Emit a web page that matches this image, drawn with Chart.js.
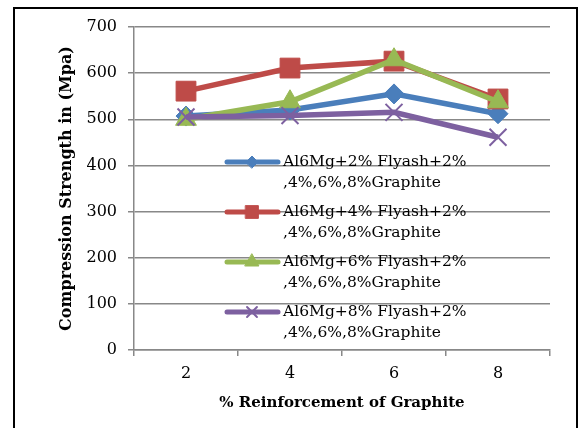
<!DOCTYPE html>
<html>
<head>
<meta charset="utf-8">
<script src="https://cdn.jsdelivr.net/npm/chart.js@4.4.1/dist/chart.umd.min.js"></script>
<style>
html,body{margin:0;padding:0;background:#fff;}
#wrap{position:relative;width:580px;height:428px;}
</style>
</head>
<body>
<div id="wrap"><canvas id="c" width="580" height="428"></canvas></div>
<script>
const categories = ['2', '4', '6', '8'];
const seriesNames = [
  ['Al6Mg+2% Flyash+2%', ',4%,6%,8%Graphite'],
  ['Al6Mg+4% Flyash+2%', ',4%,6%,8%Graphite'],
  ['Al6Mg+6% Flyash+2%', ',4%,6%,8%Graphite'],
  ['Al6Mg+8% Flyash+2%', ',4%,6%,8%Graphite']
];
const flyash2 = [507, 520, 555, 512];
const flyash4 = [561, 611, 626, 544];
const flyash6 = [500, 538, 629, 538];
const flyash8 = [505, 508, 515, 461];
const yTicks = [0, 100, 200, 300, 400, 500, 600, 700];

const colors = ['#4A7EBB', '#BE4B48', '#98B954', '#7D60A0'];
const styles = ['rectRot', 'rect', 'triangle', 'crossRot'];
const radii = [10, 14, 12, 12];
const legendRadii = [6, 9, 8, 7];
const FONT = "'DejaVu Serif', serif";

function ds(i, data, order) {
  return {
    label: seriesNames[i].join(' '),
    data: data,
    borderColor: colors[i],
    backgroundColor: colors[i],
    borderWidth: 5.5,
    pointStyle: styles[i],
    pointRadius: radii[i],
    pointHoverRadius: radii[i],
    pointBorderColor: colors[i],
    pointBackgroundColor: colors[i],
    pointBorderWidth: styles[i] === 'crossRot' ? 2 : 1,
    tension: 0,
    order: order
  };
}

const frame = {
  id: 'frame',
  beforeDraw(chart) {
    const ctx = chart.ctx;
    ctx.save();
    ctx.fillStyle = '#fff';
    ctx.fillRect(0, 0, chart.width, chart.height);
    ctx.strokeStyle = '#000';
    ctx.lineWidth = 2;
    ctx.strokeRect(14, 8, 563, 500);
    ctx.restore();
  }
};

const customLegend = {
  id: 'customLegend',
  afterDraw(chart) {
    const ctx = chart.ctx;
    ctx.save();
    ctx.font = "15.5px " + FONT;
    ctx.textBaseline = 'middle';
    ctx.textAlign = 'left';
    for (let i = 0; i < seriesNames.length; i++) {
      const y = 162 + 50 * i;
      ctx.strokeStyle = colors[i];
      ctx.lineWidth = 5;
      ctx.lineCap = 'round';
      ctx.beginPath();
      ctx.moveTo(227, y);
      ctx.lineTo(278, y);
      ctx.stroke();
      ctx.fillStyle = colors[i];
      ctx.lineWidth = styles[i] === 'crossRot' ? 2 : 1;
      Chart.helpers.drawPoint(ctx, {pointStyle: styles[i], radius: legendRadii[i], borderWidth: ctx.lineWidth, rotation: 0}, 252, y);
      ctx.fillStyle = '#000';
      ctx.fillText(seriesNames[i][0], 283, y);
      ctx.fillText(seriesNames[i][1], 283, y + 21);
    }
    ctx.restore();
  }
};

new Chart(document.getElementById('c'), {
  type: 'line',
  data: {
    labels: categories,
    datasets: [
      ds(0, flyash2, 4),
      ds(1, flyash4, 3),
      ds(2, flyash6, 2),
      ds(3, flyash8, 1)
    ]
  },
  options: {
    responsive: false,
    animation: false,
    events: [],
    layout: {padding: {left: 0, right: 30, top: 27, bottom: 0}},
    plugins: {legend: {display: false}, tooltip: {enabled: false}},
    scales: {
      x: {
        offset: true,
        afterFit(s) { s.height = 78; },
        grid: {display: true, drawOnChartArea: false, drawTicks: true, tickLength: 6, offset: true, color: '#888', lineWidth: 1.5},
        border: {color: '#888', width: 1.5},
        ticks: {color: '#000', font: {family: FONT, size: 16}, padding: 8},
        title: {display: true, text: '% Reinforcement of Graphite', color: '#000', font: {family: FONT, size: 15, weight: 'bold'}, padding: {top: 0, bottom: 16}}
      },
      y: {
        min: 0, max: 700,
        afterFit(s) { s.width = 134; },
        afterBuildTicks(s) { s.ticks = yTicks.map(v => ({value: v})); },
        grid: {color: '#888', lineWidth: 1.5, tickLength: 6, drawTicks: true},
        border: {color: '#888', width: 1.5},
        ticks: {color: '#000', font: {family: FONT, size: 16}, padding: 11},
        title: {display: true, text: 'Compression Strength in (Mpa)', color: '#000', font: {family: FONT, size: 16, weight: 'bold'}, padding: {top: 57, bottom: 0}}
      }
    }
  },
  plugins: [frame, customLegend]
});
</script>
</body>
</html>
